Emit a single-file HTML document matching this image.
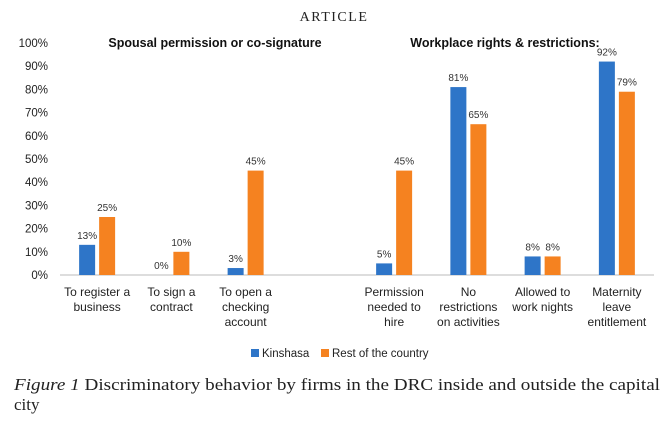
<!DOCTYPE html>
<html><head><meta charset="utf-8"><style>
body{margin:0;background:#fff;width:668px;height:416px;overflow:hidden;font-family:"Liberation Sans",sans-serif}
</style></head><body>
<svg width="668" height="416" xmlns="http://www.w3.org/2000/svg">
<text x="334" y="21" text-anchor="middle" font-family="Liberation Serif" font-size="14" letter-spacing="1.5" fill="#222">ARTICLE</text>
<text x="215" y="47" text-anchor="middle" font-size="12.5" font-weight="bold" fill="#111">Spousal permission or co-signature</text>
<text x="505" y="47" text-anchor="middle" font-size="12.5" font-weight="bold" fill="#111">Workplace rights &amp; restrictions:</text>
<g id="yaxis"></g><g id="bars"></g><g id="xlabels"></g>
<g>
<rect x="251" y="349" width="8" height="8" fill="#2e75c8"/>
<text x="262" y="357" font-size="11.5" fill="#222">Kinshasa</text>
<rect x="321" y="349" width="8" height="8" fill="#f58220"/>
<text x="332" y="357" font-size="11.5" fill="#222">Rest of the country</text>
</g>
<text x="14" y="390" font-family="Liberation Serif" font-size="17" fill="#222" textLength="646" lengthAdjust="spacingAndGlyphs"><tspan font-style="italic">Figure 1</tspan> Discriminatory behavior by firms in the DRC inside and outside the capital</text>
<text x="14" y="410" font-family="Liberation Serif" font-size="17" fill="#222">city</text>
</svg>
<script>
const categories=[["To register a","business"],["To sign a","contract"],["To open a","checking","account"],null,["Permission","needed to","hire"],["No","restrictions","on activities"],["Allowed to","work nights"],["Maternity","leave","entitlement"]];
const kinshasa=[13,0,3,null,5,81,8,92];
const rest=[25,10,45,null,45,65,8,79];
const yTicks=[0,10,20,30,40,50,60,70,80,90,100];
const NS="http://www.w3.org/2000/svg";
const y0=275,y100=43,xL=60,xR=654;
const y=v=>y0-(y0-y100)*v/100;
const slot=(xR-xL)/categories.length;
const xc=i=>xL+slot*(i+0.5);
function mk(t,a,p){const e=document.createElementNS(NS,t);for(const k in a)e.setAttribute(k,a[k]);p.appendChild(e);return e;}
const ya=document.getElementById('yaxis'),bg=document.getElementById('bars'),xg=document.getElementById('xlabels');
yTicks.forEach(v=>{const t=mk('text',{x:48,y:y(v)+4,'text-anchor':'end','font-size':11.5,fill:'#222'},ya);t.textContent=v+'%';

});
const ax=mk('line',{x1:xL,x2:xR,y1:y0,y2:y0,stroke:'#bbb'},ya);


const bw=16;
categories.forEach((c,i)=>{
 if(!c)return;
 [[kinshasa,'#2e75c8',-bw-2,'bar-kinshasa'],[rest,'#f58220',2,'bar-rest']].forEach(([arr,col,off,nm])=>{
  const v=arr[i];const bx=xc(i)+off;
  const r=mk('rect',{x:bx,y:y(v),width:bw,height:y0-y(v),fill:col},bg);
  
  
  const t=mk('text',{x:bx+bw/2,y:y(v)-6,'text-anchor':'middle','font-size':10,fill:'#333'},bg);t.textContent=v+'%';
  
  
 });
 c.forEach((ln,j)=>{const t=mk('text',{x:xc(i),y:296+j*15,'text-anchor':'middle','font-size':12,fill:'#222'},xg);t.textContent=ln;
 
 });
});
</script>
</body></html>
